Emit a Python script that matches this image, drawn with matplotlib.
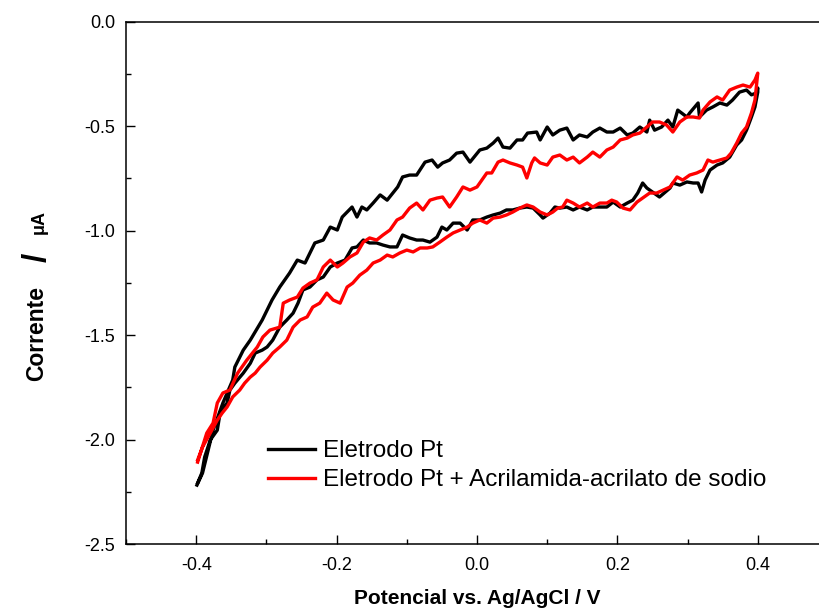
import matplotlib
matplotlib.use('Agg')
import matplotlib.pyplot as plt
from matplotlib.ticker import MultipleLocator

plt.rcParams['font.family'] = ['Liberation Sans', 'DejaVu Sans']
plt.rcParams['axes.unicode_minus'] = False

# Eletrodo Pt - ramo superior (ida) e inferior (volta)
pt_up_x = [-0.399, -0.391, -0.376, -0.362, -0.348, -0.345, -0.333, -0.323, -0.306, -0.292,
           -0.281, -0.267, -0.256, -0.245, -0.238, -0.231, -0.219, -0.209, -0.199, -0.192,
           -0.178, -0.171, -0.164, -0.157, -0.148, -0.138, -0.128, -0.120, -0.113, -0.106,
           -0.096, -0.086, -0.074, -0.064, -0.056, -0.049, -0.039, -0.029, -0.020, -0.010,
           0.004, 0.014, 0.023, 0.030, 0.037, 0.047, 0.057, 0.065, 0.072, 0.085,
           0.090, 0.100, 0.108, 0.118, 0.128, 0.137, 0.146, 0.157, 0.165, 0.175,
           0.185, 0.194, 0.204, 0.214, 0.222, 0.232, 0.242, 0.246, 0.253, 0.263,
           0.272, 0.279, 0.286, 0.299, 0.303, 0.315, 0.317, 0.327, 0.336, 0.346,
           0.356, 0.364, 0.374, 0.384, 0.391, 0.398, 0.400]
pt_up_y = [-2.218, -2.160, -1.955, -1.825, -1.715, -1.653, -1.572, -1.524, -1.428, -1.332,
           -1.270, -1.203, -1.141, -1.155, -1.107, -1.059, -1.045, -0.983, -0.997, -0.935,
           -0.887, -0.935, -0.887, -0.901, -0.868, -0.829, -0.854, -0.820, -0.791, -0.743,
           -0.734, -0.734, -0.672, -0.662, -0.696, -0.676, -0.662, -0.629, -0.624, -0.672,
           -0.614, -0.605, -0.581, -0.557, -0.600, -0.605, -0.566, -0.566, -0.533, -0.528,
           -0.566, -0.504, -0.542, -0.519, -0.509, -0.566, -0.542, -0.552, -0.528, -0.509,
           -0.528, -0.528, -0.509, -0.542, -0.533, -0.504, -0.528, -0.471, -0.519, -0.504,
           -0.471, -0.504, -0.423, -0.456, -0.437, -0.389, -0.456, -0.423, -0.408, -0.389,
           -0.399, -0.375, -0.337, -0.327, -0.350, -0.341, -0.317]

pt_down_x = [0.400, 0.396, 0.391, 0.384, 0.377, 0.370, 0.360, 0.350, 0.342, 0.332,
             0.325, 0.320, 0.315, 0.308, 0.299, 0.289, 0.279, 0.275, 0.260, 0.250,
             0.242, 0.236, 0.229, 0.222, 0.214, 0.204, 0.194, 0.185, 0.175, 0.165,
             0.157, 0.146, 0.137, 0.128, 0.118, 0.111, 0.104, 0.094, 0.090, 0.080,
             0.071, 0.061, 0.051, 0.042, 0.033, 0.023, 0.014, 0.004, -0.006, -0.014,
             -0.024, -0.034, -0.043, -0.050, -0.057, -0.067, -0.077, -0.086, -0.096, -0.106,
             -0.114, -0.124, -0.134, -0.143, -0.153, -0.162, -0.171, -0.178, -0.188, -0.199,
             -0.209, -0.219, -0.228, -0.238, -0.248, -0.255, -0.262, -0.271, -0.281, -0.291,
             -0.299, -0.306, -0.316, -0.323, -0.333, -0.345, -0.352, -0.356, -0.366, -0.370,
             -0.380, -0.388, -0.392, -0.398]
pt_down_y = [-0.337, -0.408, -0.456, -0.519, -0.566, -0.590, -0.648, -0.676, -0.686, -0.710,
             -0.758, -0.815, -0.772, -0.772, -0.767, -0.782, -0.772, -0.796, -0.839, -0.815,
             -0.796, -0.772, -0.820, -0.854, -0.868, -0.887, -0.863, -0.887, -0.887, -0.887,
             -0.901, -0.887, -0.901, -0.887, -0.892, -0.887, -0.916, -0.940, -0.925, -0.892,
             -0.887, -0.892, -0.901, -0.901, -0.916, -0.925, -0.935, -0.949, -0.949, -0.997,
             -0.964, -0.964, -0.997, -0.983, -1.031, -1.055, -1.045, -1.045, -1.035, -1.021,
             -1.078, -1.078, -1.069, -1.059, -1.059, -1.045, -1.078, -1.083, -1.141, -1.155,
             -1.174, -1.222, -1.236, -1.270, -1.284, -1.347, -1.395, -1.428, -1.462, -1.524,
             -1.557, -1.572, -1.586, -1.635, -1.682, -1.730, -1.763, -1.825, -1.873, -1.955,
             -2.002, -2.084, -2.160, -2.208]

# Eletrodo Pt + Acrilamida-acrilato de sodio
aa_up_x = [-0.398, -0.385, -0.376, -0.370, -0.362, -0.352, -0.341, -0.328, -0.313, -0.305,
           -0.295, -0.281, -0.276, -0.267, -0.256, -0.248, -0.238, -0.228, -0.219, -0.209,
           -0.199, -0.191, -0.181, -0.171, -0.162, -0.153, -0.143, -0.134, -0.124, -0.114,
           -0.106, -0.096, -0.086, -0.077, -0.067, -0.057, -0.049, -0.039, -0.029, -0.020,
           -0.010, 0.000, 0.014, 0.021, 0.030, 0.037, 0.047, 0.057, 0.065, 0.071,
           0.078, 0.082, 0.090, 0.100, 0.108, 0.118, 0.128, 0.137, 0.146, 0.157,
           0.165, 0.175, 0.185, 0.194, 0.204, 0.214, 0.222, 0.232, 0.242, 0.250,
           0.260, 0.270, 0.279, 0.289, 0.299, 0.308, 0.317, 0.322, 0.332, 0.342,
           0.350, 0.360, 0.370, 0.379, 0.389, 0.396, 0.400]
aa_up_y = [-2.108, -1.969, -1.921, -1.825, -1.777, -1.763, -1.682, -1.620, -1.557, -1.509,
           -1.476, -1.462, -1.347, -1.332, -1.318, -1.275, -1.251, -1.236, -1.174, -1.141,
           -1.174, -1.155, -1.126, -1.107, -1.055, -1.035, -1.045, -1.021, -0.997, -0.949,
           -0.935, -0.892, -0.868, -0.901, -0.854, -0.844, -0.839, -0.887, -0.839, -0.791,
           -0.806, -0.791, -0.724, -0.724, -0.672, -0.662, -0.676, -0.686, -0.696, -0.748,
           -0.676, -0.652, -0.676, -0.686, -0.648, -0.638, -0.662, -0.648, -0.676, -0.648,
           -0.624, -0.648, -0.614, -0.600, -0.566, -0.557, -0.542, -0.533, -0.504, -0.480,
           -0.480, -0.494, -0.528, -0.480, -0.456, -0.456, -0.461, -0.423, -0.384, -0.360,
           -0.375, -0.327, -0.313, -0.303, -0.313, -0.279, -0.246]

aa_down_x = [0.400, 0.396, 0.391, 0.384, 0.377, 0.370, 0.362, 0.356, 0.346, 0.336,
             0.329, 0.322, 0.313, 0.303, 0.293, 0.285, 0.275, 0.265, 0.256, 0.246,
             0.236, 0.228, 0.218, 0.208, 0.199, 0.192, 0.185, 0.175, 0.165, 0.157,
             0.146, 0.137, 0.128, 0.122, 0.115, 0.108, 0.100, 0.090, 0.080, 0.071,
             0.061, 0.051, 0.042, 0.033, 0.023, 0.014, 0.004, -0.006, -0.014, -0.024,
             -0.034, -0.043, -0.053, -0.063, -0.071, -0.081, -0.091, -0.100, -0.110, -0.120,
             -0.128, -0.138, -0.148, -0.157, -0.167, -0.177, -0.185, -0.195, -0.205, -0.214,
             -0.224, -0.234, -0.242, -0.252, -0.262, -0.271, -0.281, -0.291, -0.299, -0.309,
             -0.316, -0.323, -0.331, -0.338, -0.348, -0.356, -0.363, -0.370, -0.380, -0.391,
             -0.398]
aa_down_y = [-0.246, -0.375, -0.437, -0.504, -0.533, -0.581, -0.629, -0.652, -0.662, -0.672,
             -0.662, -0.710, -0.724, -0.734, -0.758, -0.743, -0.791, -0.806, -0.820, -0.820,
             -0.844, -0.863, -0.901, -0.892, -0.863, -0.854, -0.868, -0.868, -0.887, -0.868,
             -0.887, -0.868, -0.854, -0.887, -0.892, -0.911, -0.925, -0.911, -0.887, -0.877,
             -0.892, -0.911, -0.925, -0.935, -0.940, -0.964, -0.949, -0.964, -0.983, -0.997,
             -1.011, -1.031, -1.055, -1.078, -1.083, -1.083, -1.102, -1.093, -1.107, -1.126,
             -1.117, -1.141, -1.155, -1.189, -1.213, -1.251, -1.270, -1.347, -1.332, -1.299,
             -1.347, -1.366, -1.413, -1.428, -1.462, -1.524, -1.557, -1.586, -1.620, -1.653,
             -1.682, -1.701, -1.730, -1.763, -1.796, -1.844, -1.873, -1.907, -1.969, -2.036,
             -2.098]

labels = ['Eletrodo Pt', 'Eletrodo Pt + Acrilamida-acrilato de sodio']
cores = ['#000000', '#ff0000']

fig = plt.figure(figsize=(8.2, 6.12), dpi=100)
ax = fig.add_axes([0.1537, 0.1111, 0.856, 0.8534])

ax.plot(pt_up_x + pt_down_x, pt_up_y + pt_down_y, color=cores[0], lw=2.4, label=labels[0])
ax.plot(aa_up_x + aa_down_x, aa_up_y + aa_down_y, color=cores[1], lw=2.4, label=labels[1])

ax.set_xlim(-0.5, 0.5)
ax.set_ylim(-2.5, 0.0)
ax.xaxis.set_major_locator(MultipleLocator(0.2))
ax.xaxis.set_minor_locator(MultipleLocator(0.1))
ax.yaxis.set_major_locator(MultipleLocator(0.5))
ax.yaxis.set_minor_locator(MultipleLocator(0.25))
ax.tick_params(which='both', direction='in', labelsize=13, width=1)
ax.tick_params(which='major', length=6.5)
ax.tick_params(which='minor', length=3.5)
ax.tick_params(axis='x', pad=9)
ax.tick_params(axis='y', pad=8)
for s in ax.spines.values():
    s.set_linewidth(1.1)

ax.set_xlabel('Potencial vs. Ag/AgCl / V', fontsize=15, fontweight='bold')
ax.xaxis.set_label_coords(0.5, -0.086)

# rotulo do eixo y em 3 partes: "/" maior e "μA" menor, como no original
xl = -0.127
ax.text(xl, 0.404, 'Corrente', transform=ax.transAxes, rotation=90, fontsize=16.5,
        fontweight='bold', ha='center', va='center')
ax.text(xl, 0.549, '/', transform=ax.transAxes, rotation=90, fontsize=24,
        fontweight='bold', ha='center', va='center')
ax.text(xl + 0.003, 0.617, 'μA', transform=ax.transAxes, rotation=90, fontsize=13,
        fontweight='bold', ha='center', va='center')

ax.legend(loc='upper left', bbox_to_anchor=(0.202, 0.199), frameon=False, fontsize=17.5,
          handlelength=1.95, handletextpad=0.3, borderpad=0, borderaxespad=0, labelspacing=0.3)

plt.savefig('out.png', dpi=100)
